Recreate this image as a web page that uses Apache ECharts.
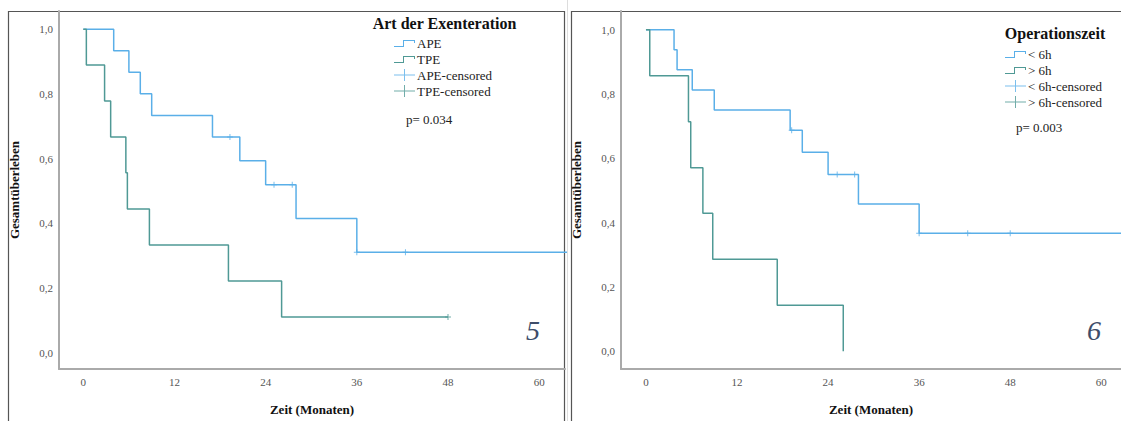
<!DOCTYPE html>
<html><head><meta charset="utf-8">
<script src="https://cdn.jsdelivr.net/npm/echarts@6/dist/echarts.min.js"></script>
<style>html,body{margin:0;padding:0;background:#fff}#c{width:1121px;height:421px}</style>
</head><body><div id="c"></div>
<script>
// ---- tick labels ----
const xTicks = [0, 12, 24, 36, 48, 60];
const yTicks = [0, 0.2, 0.4, 0.6, 0.8, 1.0];

// ---- Panel 5: Art der Exenteration ----
const apeT = [0, 4, 6, 7.5, 9, 17, 20.6, 24, 28, 36, 66];
const apeS = [1, 0.933, 0.867, 0.8, 0.733, 0.667, 0.593, 0.519, 0.415, 0.311, 0.311];
const apeCensT = [19.3, 25.1, 27.5, 36, 42.4];
const apeCensS = [0.667, 0.519, 0.519, 0.311, 0.311];
const tpeT = [0, 0.4, 2.8, 3.6, 5.6, 5.8, 8.7, 19.1, 26.1, 48];
const tpeS = [1, 0.889, 0.778, 0.667, 0.556, 0.444, 0.333, 0.222, 0.111, 0.111];
const tpeCensT = [48];
const tpeCensS = [0.111];

// ---- Panel 6: Operationszeit ----
const lt6T = [0, 3.7, 4.1, 6.1, 9, 19, 20.6, 24, 28, 36, 66];
const lt6S = [1, 0.9375, 0.875, 0.8125, 0.75, 0.6875, 0.619, 0.55, 0.458, 0.367, 0.367];
const lt6CensT = [19.2, 25.2, 27.5, 36, 42.4, 48];
const lt6CensS = [0.6875, 0.55, 0.55, 0.367, 0.367, 0.367];
const gt6T = [0, 0.5, 5.6, 5.9, 7.5, 8.8, 17.3, 26];
const gt6S = [1, 0.857, 0.714, 0.571, 0.429, 0.286, 0.143, 0];

const BLUE = '#5aafe8', TEAL = '#4f9995';
const SERIF = '"Liberation Serif", "Times New Roman", serif';
const zip = (a, b) => a.map((v, i) => [v, b[i]]);
const stepIcon = 'path://M0,0L0.01,0L0,0.01Z M0,9H9V3H21V6H20V4H10V10H0Z M21,12L20.99,12L21,11.99Z';
const crossIcon = 'path://M0,5.5H21V6.5H0Z M10,0H11V12H10Z';
const censSym = 'path://M0,2.5H6V3.5H0Z M2.5,0H3.5V6H2.5Z';

function xAx(gi, min, max) {
  return {
    type: 'value', gridIndex: gi, min, max,
    name: 'Zeit (Monaten)', nameLocation: 'middle', nameGap: 34,
    nameTextStyle: { fontFamily: SERIF, fontWeight: 'bold', fontSize: 13, color: '#111' },
    axisLine: { onZero: false, lineStyle: { color: '#aaa', width: 2 } },
    axisTick: { show: false }, splitLine: { show: false },
    axisLabel: { customValues: xTicks, fontFamily: SERIF, fontSize: 11, color: '#555', margin: 7 }
  };
}
function yAx(gi, min, max) {
  return {
    type: 'value', gridIndex: gi, min, max,
    name: 'Gesamtüberleben', nameLocation: 'middle', nameGap: 38,
    nameTextStyle: { fontFamily: SERIF, fontWeight: 'bold', fontSize: 13, color: '#111' },
    axisLine: { show: true, onZero: false, lineStyle: { color: '#aaa', width: 2 } },
    axisTick: { show: false }, splitLine: { show: false },
    axisLabel: { customValues: yTicks, fontFamily: SERIF, fontSize: 11, color: '#555', margin: 6,
      formatter: v => v.toFixed(1).replace('.', ',') }
  };
}
function curve(name, gi, t, s, color) {
  return { name, type: 'line', xAxisIndex: gi, yAxisIndex: gi, step: 'end', symbol: 'none', clip: true,
    data: zip(t, s), lineStyle: { color, width: 1.5 }, itemStyle: { color }, animation: false };
}
function cens(name, gi, t, s, color) {
  return { name, type: 'scatter', xAxisIndex: gi, yAxisIndex: gi, symbol: censSym, symbolSize: [6, 6],
    data: zip(t, s), itemStyle: { color }, animation: false };
}
function legend(left, top, names) {
  return {
    orient: 'vertical', left, top, padding: 0, itemWidth: 21, itemHeight: 12, itemGap: 0,
    textStyle: { fontFamily: SERIF, fontSize: 13, color: '#222', lineHeight: 16, padding: [0, 0, 0, -3] },
    data: [
      { name: names[0], icon: stepIcon, itemStyle: { color: BLUE } },
      { name: names[1], icon: stepIcon, itemStyle: { color: TEAL } },
      { name: names[2], icon: crossIcon, itemStyle: { color: BLUE } },
      { name: names[3], icon: crossIcon, itemStyle: { color: TEAL } }
    ]
  };
}
function txt(x, y, text, font, fill, align) {
  return { type: 'text', x, y, silent: true,
    style: { text, font, fill, align: align || 'left', verticalAlign: 'middle' } };
}

const chart = echarts.init(document.getElementById('c'), null, { renderer: 'svg' });
chart.setOption({
  backgroundColor: '#fff',
  animation: false,
  grid: [
    { left: 59, top: 11, width: 506, height: 365 },
    { left: 621, top: 11, width: 500, height: 365 }
  ],
  xAxis: [xAx(0, -3.2, 63.4), xAx(1, -3.29, 62.6)],
  yAxis: [yAx(0, -0.05, 1.056), yAx(1, -0.055, 1.058)],
  legend: [
    legend(394, 35, ['APE', 'TPE', 'APE-censored', 'TPE-censored']),
    legend(1005, 46, ['< 6h', '> 6h', '< 6h-censored', '> 6h-censored'])
  ],
  series: [
    curve('APE', 0, apeT, apeS, BLUE),
    curve('TPE', 0, tpeT, tpeS, TEAL),
    cens('APE-censored', 0, apeCensT, apeCensS, BLUE),
    cens('TPE-censored', 0, tpeCensT, tpeCensS, TEAL),
    curve('< 6h', 1, lt6T, lt6S, BLUE),
    curve('> 6h', 1, gt6T, gt6S, TEAL),
    cens('< 6h-censored', 1, lt6CensT, lt6CensS, BLUE),
    cens('> 6h-censored', 1, [], [], TEAL)
  ],
  graphic: [
    { type: 'polyline', silent: true, shape: { points: [[8.5, 421], [8.5, 11.5], [564.5, 11.5], [564.5, 421]] },
      style: { stroke: '#555', lineWidth: 1.2, fill: null } },
    { type: 'line', silent: true, shape: { x1: 567.5, y1: 0, x2: 567.5, y2: 421 }, style: { stroke: '#ddd', lineWidth: 1 } },
    { type: 'polyline', silent: true, shape: { points: [[571.5, 421], [571.5, 11.5], [1121, 11.5]] },
      style: { stroke: '#555', lineWidth: 1.2, fill: null } },
    txt(444.5, 23, 'Art der Exenteration', 'bold 16px ' + SERIF, '#111', 'center'),
    txt(406, 119, 'p= 0.034', '13px ' + SERIF, '#222'),
    txt(533, 330, '5', 'italic 28px ' + SERIF, '#3d4d6a', 'center'),
    txt(1055, 33, 'Operationszeit', 'bold 16px ' + SERIF, '#111', 'center'),
    txt(1016, 127, 'p= 0.003', '13px ' + SERIF, '#222'),
    txt(1094, 330, '6', 'italic 28px ' + SERIF, '#3d4d6a', 'center')
  ]
});
</script>
</body></html>
